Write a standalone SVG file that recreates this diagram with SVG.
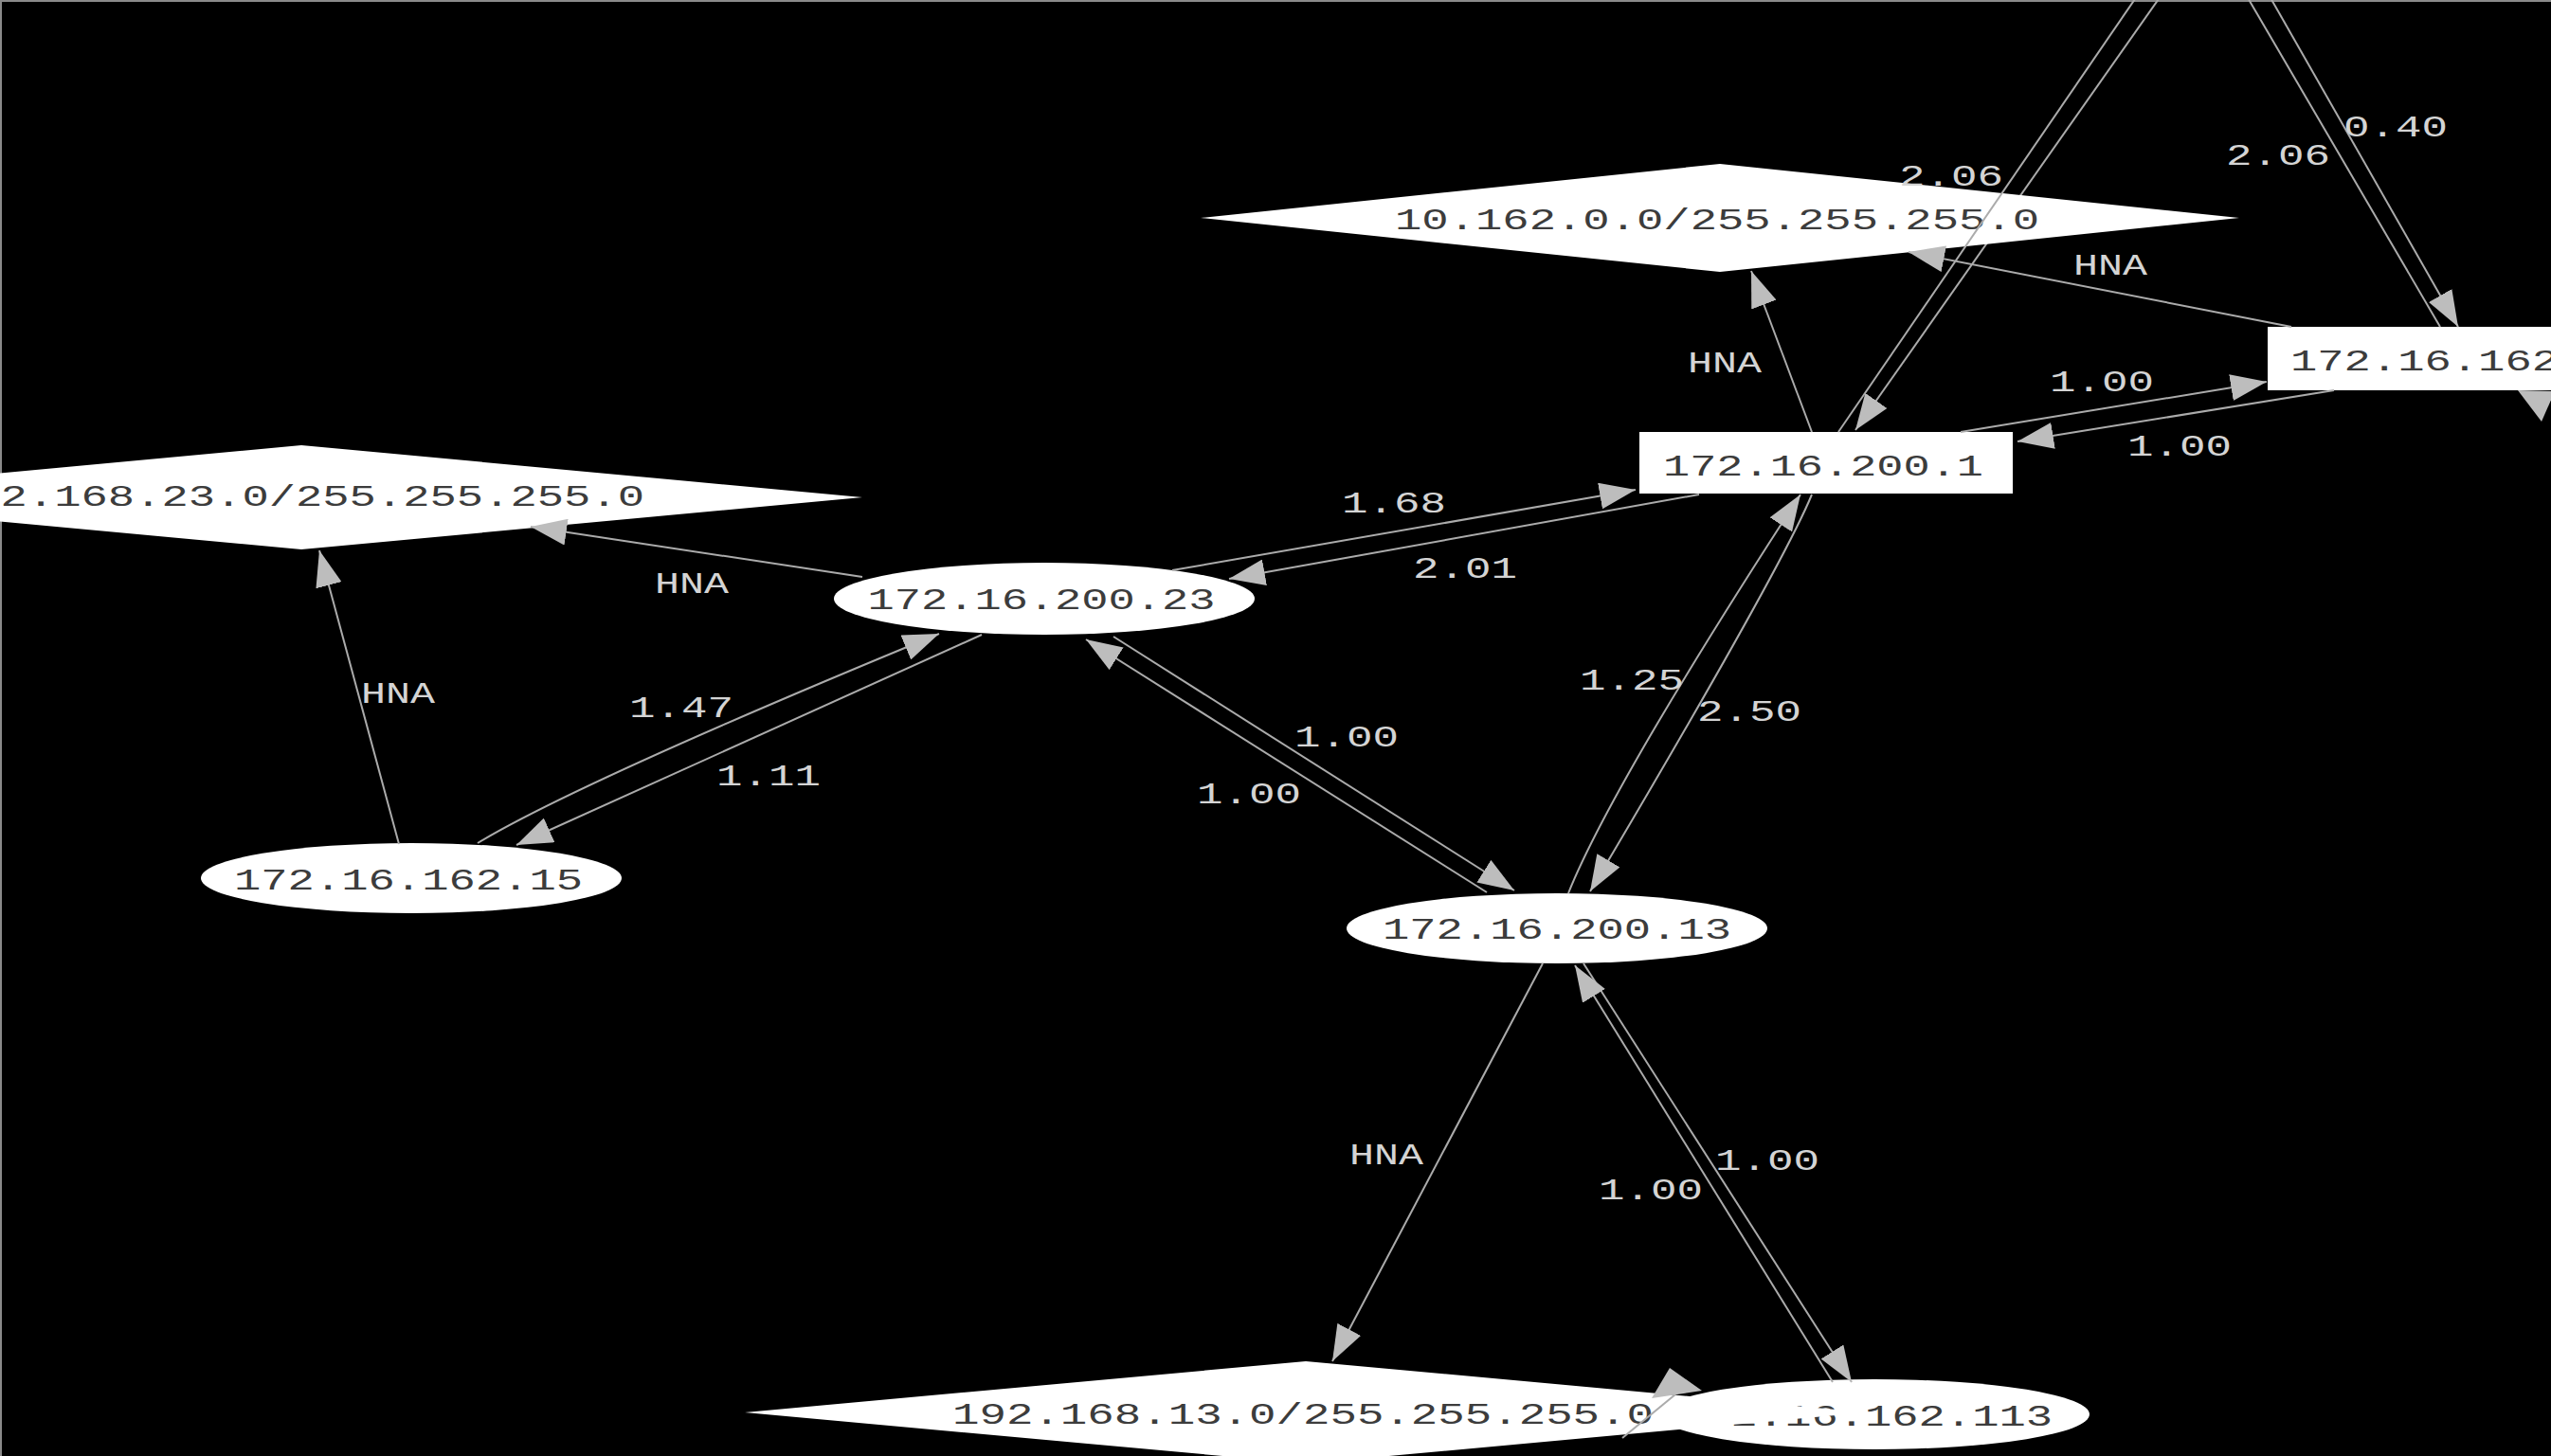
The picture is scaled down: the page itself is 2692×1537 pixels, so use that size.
<svg xmlns="http://www.w3.org/2000/svg" width="2692" height="1537" viewBox="0 0 2692 1537">
<style>
.bg{fill:#000}
.nd{fill:#fff;stroke:none}
.nt{font-family:"Liberation Mono","DejaVu Sans Mono",monospace;font-size:31px;fill:#3c3c3c;text-anchor:middle}
.el{font-family:"Liberation Mono","DejaVu Sans Mono",monospace;font-size:31px;fill:#d4d4d4;text-anchor:middle}
.ed{fill:none;stroke:#ababab;stroke-width:2}
.ah{fill:#bdbdbd;stroke:none}
</style>
<defs>
<marker id="arr" markerUnits="userSpaceOnUse" markerWidth="38" markerHeight="28" viewBox="0 0 38 28" refX="38" refY="14" orient="auto">
<path d="M0,0 L38,14 L0,28 Z" class="ah"/>
</marker>
</defs>
<rect class="bg" x="0" y="0" width="2692" height="1537"/>
<path d="M0,1 H2692 M1,0 V1537" stroke="#8a8a8a" stroke-width="2" fill="none"/>

<g id="edges-under">
<path class="ed" d="M2280,-4 L1958,454" marker-end="url(#arr)"/>
</g>

<g id="node-10.162.0.0">
<polygon class="nd" points="1267,230 1815,173 2363,230 1815,287"/>
<text class="nt" x="1812" y="242" textLength="680" lengthAdjust="spacingAndGlyphs">10.162.0.0/255.255.255.0</text>
</g>
<g id="node-192.168.23.0">
<polygon class="nd" points="-274,525 318,470 910,525 318,580"/>
<text class="nt" x="312" y="534" textLength="736" lengthAdjust="spacingAndGlyphs">192.168.23.0/255.255.255.0</text>
</g>
<g id="node-172.16.162.113">
<ellipse class="nd" cx="1978" cy="1493" rx="227" ry="37"/>
<text class="nt" x="1968" y="1505" textLength="396" lengthAdjust="spacingAndGlyphs">172.16.162.113</text>
</g>
<g id="node-192.168.13.0">
<polygon class="nd" points="786,1491 1378,1437 1970,1491 1378,1545"/>
<text class="nt" x="1375" y="1503" textLength="740" lengthAdjust="spacingAndGlyphs">192.168.13.0/255.255.255.0</text>
</g>
<g id="node-172.16.200.1">
<rect class="nd" x="1730" y="456" width="394" height="65"/>
<text class="nt" x="1924" y="502" textLength="338" lengthAdjust="spacingAndGlyphs">172.16.200.1</text>
</g>
<g id="node-172.16.162">
<rect class="nd" x="2393" y="345" width="320" height="67"/>
<text class="nt" x="2417" y="391" textLength="283" lengthAdjust="spacingAndGlyphs" style="text-anchor:start">172.16.162</text>
</g>
<g id="node-172.16.200.23">
<ellipse class="nd" cx="1102" cy="632" rx="222" ry="38"/>
<text class="nt" x="1099" y="643" textLength="367" lengthAdjust="spacingAndGlyphs">172.16.200.23</text>
</g>
<g id="node-172.16.162.15">
<ellipse class="nd" cx="434" cy="927" rx="222" ry="37"/>
<text class="nt" x="431" y="939" textLength="368" lengthAdjust="spacingAndGlyphs">172.16.162.15</text>
</g>
<g id="node-172.16.200.13">
<ellipse class="nd" cx="1643" cy="980" rx="222" ry="37"/>
<text class="nt" x="1643" y="991" textLength="368" lengthAdjust="spacingAndGlyphs">172.16.200.13</text>
</g>

<g id="edges">
<path class="ed" d="M1940,456 L2255,-4"/>
<path class="ed" d="M2575,345 L2371,-4"/>
<path class="ed" d="M2395,-4 L2594,345" marker-end="url(#arr)"/>
<path class="ed" d="M1912,456 L1848,286" marker-end="url(#arr)"/>
<path class="ed" d="M2418,345 L2014,266" marker-end="url(#arr)"/>
<path class="ed" d="M910,609 L560,556" marker-end="url(#arr)"/>
<path class="ed" d="M421,891 L337,581" marker-end="url(#arr)"/>
<path class="ed" d="M1628,1017 L1406,1437" marker-end="url(#arr)"/>
<path class="ed" d="M1237,602 L1726,517" marker-end="url(#arr)"/>
<path class="ed" d="M1793,522 L1297,611" marker-end="url(#arr)"/>
<path class="ed" d="M504,890 Q610,826 991,669" marker-end="url(#arr)"/>
<path class="ed" d="M1036,670 L545,892" marker-end="url(#arr)"/>
<path class="ed" d="M1175,672 L1598,940" marker-end="url(#arr)"/>
<path class="ed" d="M1569,942 L1146,675" marker-end="url(#arr)"/>
<path class="ed" d="M1655,943 Q1700,830 1900,522" marker-end="url(#arr)"/>
<path class="ed" d="M1912,522 Q1880,600 1678,941" marker-end="url(#arr)"/>
<path class="ed" d="M2069,456 L2392,403" marker-end="url(#arr)"/>
<path class="ed" d="M2463,412 L2129,466" marker-end="url(#arr)"/>
<path class="ed" d="M1671,1017 L1954,1459" marker-end="url(#arr)"/>
<path class="ed" d="M1934,1459 L1662,1019" marker-end="url(#arr)"/>
<path class="ed" d="M1712,1518 L1768,1472"/>
<polygon class="ah" points="1762,1444 1796,1468 1743,1476"/>
<polygon class="ah" points="2657,412 2696,413 2682,445"/>

<text class="el" x="2059" y="196" textLength="110" lengthAdjust="spacingAndGlyphs">2.06</text>
<text class="el" x="2404" y="174" textLength="110" lengthAdjust="spacingAndGlyphs">2.06</text>
<text class="el" x="2528" y="144" textLength="110" lengthAdjust="spacingAndGlyphs">0.40</text>
<text class="el" x="1820" y="393" textLength="78" lengthAdjust="spacingAndGlyphs">HNA</text>
<text class="el" x="2227" y="290" textLength="78" lengthAdjust="spacingAndGlyphs">HNA</text>
<text class="el" x="2218" y="413" textLength="110" lengthAdjust="spacingAndGlyphs">1.00</text>
<text class="el" x="2300" y="481" textLength="110" lengthAdjust="spacingAndGlyphs">1.00</text>
<text class="el" x="1471" y="541" textLength="110" lengthAdjust="spacingAndGlyphs">1.68</text>
<text class="el" x="1546" y="610" textLength="110" lengthAdjust="spacingAndGlyphs">2.01</text>
<text class="el" x="730" y="626" textLength="78" lengthAdjust="spacingAndGlyphs">HNA</text>
<text class="el" x="420" y="742" textLength="78" lengthAdjust="spacingAndGlyphs">HNA</text>
<text class="el" x="719" y="757" textLength="110" lengthAdjust="spacingAndGlyphs">1.47</text>
<text class="el" x="811" y="829" textLength="110" lengthAdjust="spacingAndGlyphs">1.11</text>
<text class="el" x="1421" y="788" textLength="110" lengthAdjust="spacingAndGlyphs">1.00</text>
<text class="el" x="1318" y="848" textLength="110" lengthAdjust="spacingAndGlyphs">1.00</text>
<text class="el" x="1722" y="728" textLength="110" lengthAdjust="spacingAndGlyphs">1.25</text>
<text class="el" x="1846" y="761" textLength="110" lengthAdjust="spacingAndGlyphs">2.50</text>
<text class="el" x="1463" y="1229" textLength="78" lengthAdjust="spacingAndGlyphs">HNA</text>
<text class="el" x="1865" y="1235" textLength="110" lengthAdjust="spacingAndGlyphs">1.00</text>
<text class="el" x="1742" y="1266" textLength="110" lengthAdjust="spacingAndGlyphs">1.00</text>
</g>
</svg>
